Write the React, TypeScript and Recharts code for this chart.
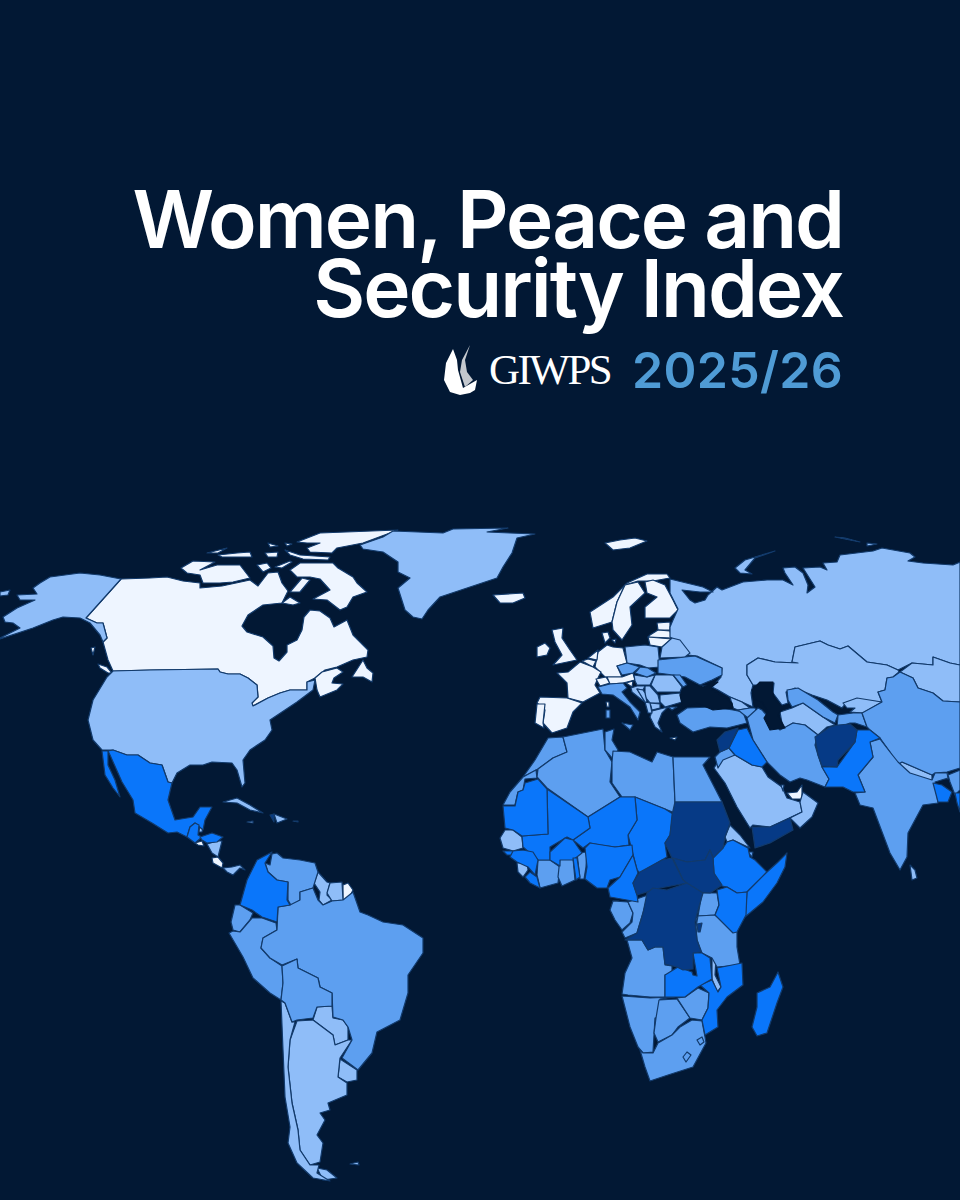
import { ScatterChart, Scatter, XAxis, YAxis } from "recharts"

type Outline = [number, number][]

// index bands, best to worst
const BAND_COLORS = ["#eef5ff", "#8fbdf8", "#5d9ff0", "#0a76fa", "#063a86"]
const BACKGROUND = "#021834"
const BORDER = "#123a6b"

// top band
const canada: Outline = [[121,579],[150,578],[167,577],[183,581],[200,583],[200,588],[222,586],[250,580],[258,586],[268,573],[278,572],[282,583],[288,591],[285,597],[282,603],[263,605],[248,615],[242,626],[247,632],[263,637],[273,646],[274,658],[279,661],[287,652],[287,645],[297,640],[302,630],[304,617],[310,610],[320,611],[330,618],[334,627],[347,620],[353,635],[368,650],[367,657],[353,660],[337,667],[325,670],[315,678],[307,682],[307,690],[290,690],[280,693],[268,698],[253,706],[252,703],[258,697],[257,685],[248,678],[240,674],[228,674],[220,672],[218,669],[150,670],[113,671],[108,660],[103,642],[107,638],[103,623],[97,623],[86,618]]
const maritimes: Outline = [[315,678],[322,672],[337,668],[343,672],[334,678],[332,683],[343,684],[337,690],[320,697],[317,690]]
const newfoundland: Outline = [[352,677],[363,660],[367,668],[373,673],[372,682],[363,677]]
const vancouver: Outline = [[98,664],[107,667],[112,673],[108,673],[100,668]]
const haida: Outline = [[91,648],[95,647],[93,655]]
const arctic: Outline[] = [
  [[181,568],[193,561],[215,562],[200,570],[217,565],[240,565],[250,578],[233,582],[220,583],[203,583],[200,575],[187,573]],
  [[207,553],[227,548],[218,553]],
  [[218,555],[237,553],[250,552],[252,557],[233,557],[222,557]],
  [[265,553],[278,552],[277,557],[268,557]],
  [[257,565],[267,563],[271,568],[263,572]],
  [[275,567],[290,561],[292,562],[282,568]],
  [[290,570],[300,563],[317,563],[333,563],[338,568],[353,577],[357,583],[367,592],[353,597],[347,607],[340,610],[327,600],[313,599],[330,590],[320,579],[310,577],[297,577]],
  [[297,542],[320,533],[398,530],[363,543],[337,548],[332,553],[310,552],[307,548],[320,543],[307,543]],
  [[285,550],[300,555],[330,557],[328,560],[303,559],[290,555]],
  [[290,592],[302,578],[310,580],[300,592]],
  [[282,603],[290,597],[300,603],[293,605]],
  [[268,543],[278,546],[270,547]],
  [[285,543],[292,544],[287,546]],
]
const iceland: Outline = [[493,595],[523,593],[525,598],[513,603],[500,603]]
const svalbard: Outline = [[605,543],[620,540],[635,538],[647,541],[630,548],[613,550]]
const norway: Outline = [[590,612],[613,597],[627,583],[647,574],[667,574],[670,578],[653,581],[638,581],[625,585],[617,602],[612,622],[593,628]]
const sweden: Outline = [[625,585],[638,582],[645,593],[630,607],[632,625],[622,640],[613,630],[612,622],[617,602]]
const finland: Outline = [[645,582],[653,580],[665,585],[673,600],[678,610],[670,618],[645,618],[645,607],[657,597],[647,593]]
const estonia: Outline = [[657,623],[670,622],[670,630],[658,630]]
const latvia: Outline = [[650,635],[658,630],[670,631],[672,638],[648,637]]
const lithuania: Outline = [[648,637],[672,639],[662,647],[650,645]]
const denmark: Outline = [[602,633],[608,632],[610,638],[605,643]]
const zealand: Outline = [[612,640],[616,639],[615,643]]
const germany: Outline = [[607,645],[613,647],[623,648],[627,663],[617,666],[622,677],[605,677],[595,667],[598,652]]
const netherlands: Outline = [[588,658],[598,650],[597,660]]
const belgium: Outline = [[582,661],[588,659],[596,661],[593,667]]
const france: Outline = [[557,673],[568,672],[580,662],[593,667],[601,672],[598,678],[595,685],[600,693],[583,702],[568,698],[567,683]]
const corsica: Outline = [[606,702],[609,702],[609,707],[607,707]]
const switzerland: Outline = [[596,679],[606,677],[610,683],[600,686]]
const austria: Outline = [[607,677],[622,677],[633,673],[635,680],[623,683],[610,684]]
const slovenia: Outline = [[626,683],[633,681],[632,687]]
const spain: Outline = [[540,697],[567,698],[582,703],[573,712],[567,728],[552,733],[543,723],[545,710],[537,703]]
const portugal: Outline = [[537,704],[545,704],[543,723],[544,728],[535,723]]
const ireland: Outline = [[537,647],[545,643],[550,648],[547,655],[537,657]]
const uk: Outline = [[552,630],[563,628],[562,638],[570,650],[577,660],[553,665],[562,655],[555,642]]
const cyprus: Outline = [[670,738],[677,737],[675,740]]
const frenchGuiana: Outline = [[343,885],[348,883],[353,890],[348,900],[343,900]]
const costaRica: Outline = [[212,858],[218,857],[223,863],[222,868],[213,863]]
const elSalvador: Outline = [[195,843],[202,841],[204,846],[198,845]]
const uae: Outline = [[787,793],[797,792],[802,785],[802,799],[792,799]]
const eqGuinea: Outline = [[613,901],[619,901],[619,905],[613,905]]

// second band
const alaska: Outline = [[0,638],[20,628],[13,623],[5,622],[3,617],[17,608],[35,600],[20,600],[17,595],[37,594],[33,588],[40,583],[50,577],[80,573],[100,575],[121,579],[86,618],[97,623],[103,623],[107,638],[103,642],[100,635],[90,623],[80,618],[63,617],[53,620],[33,628],[0,639]]
const aleutians: Outline = [[0,592],[10,590],[8,595],[0,596]]
const greenland: Outline = [[360,545],[383,537],[393,531],[443,533],[453,529],[508,528],[487,532],[510,533],[535,534],[517,538],[512,553],[503,567],[497,578],[470,587],[440,597],[428,610],[422,619],[413,617],[405,610],[398,588],[410,578],[398,572],[398,562],[383,552],[363,549]]
const usa: Outline = [[113,671],[150,670],[218,669],[220,672],[228,674],[240,674],[248,678],[257,685],[258,697],[252,703],[253,706],[268,698],[280,693],[290,690],[307,690],[307,682],[315,680],[313,690],[297,702],[282,712],[270,720],[272,730],[265,740],[250,750],[243,760],[245,783],[242,787],[237,770],[232,763],[212,762],[203,765],[190,765],[177,773],[172,783],[168,782],[162,765],[150,763],[138,755],[127,755],[113,750],[102,750],[93,740],[88,720],[93,700],[107,677]]
const russia: Outline = [[670,579],[703,587],[713,592],[700,592],[682,590],[690,600],[695,603],[705,600],[708,595],[717,587],[722,590],[743,582],[767,580],[783,580],[793,585],[785,573],[783,568],[795,567],[803,573],[808,585],[807,593],[815,587],[803,568],[820,567],[827,570],[823,563],[837,562],[840,555],[873,551],[882,548],[910,553],[915,557],[908,561],[923,563],[953,565],[960,562],[960,665],[950,663],[933,657],[933,665],[912,663],[898,670],[887,665],[867,662],[848,646],[840,649],[828,645],[820,641],[795,647],[792,662],[798,663],[775,662],[758,658],[747,665],[747,675],[753,685],[751,693],[753,707],[742,702],[730,697],[718,690],[712,687],[721,677],[722,668],[697,656],[688,655],[682,645],[670,637],[670,627],[673,620],[678,609],[670,593]]
const novayaZemlya: Outline = [[735,568],[745,560],[775,551],[755,558],[745,570],[752,574],[740,573]]
const severnaya: Outline = [[835,537],[860,542],[845,538]]
const severnaya2: Outline = [[867,543],[877,544],[867,546]]
const kazakhstan: Outline = [[899,672],[893,677],[887,678],[885,690],[878,692],[882,702],[860,700],[847,702],[842,708],[827,700],[812,695],[795,688],[786,692],[788,703],[782,705],[773,693],[774,683],[758,685],[753,685],[747,675],[747,665],[758,658],[775,662],[798,663],[792,662],[795,647],[820,641],[828,645],[840,649],[848,646],[867,662],[887,665],[898,670]]
const mongolia: Outline = [[900,672],[912,663],[933,665],[933,657],[950,663],[960,665],[960,702],[943,701],[933,693],[918,688],[913,678]]
const turkmenistan: Outline = [[780,712],[792,708],[803,703],[823,717],[835,725],[827,727],[818,735],[805,725],[793,723],[783,729]]
const kyrgyzstan: Outline = [[843,703],[857,698],[882,702],[863,713],[850,712],[855,708],[847,708]]
const georgia: Outline = [[730,697],[742,702],[750,708],[738,710],[733,708]]
const saudiArabia: Outline = [[723,754],[735,755],[752,765],[762,767],[768,777],[782,787],[787,798],[800,802],[802,812],[770,827],[753,825],[750,828],[737,807],[725,783],[714,768]]
const oman: Outline = [[803,792],[818,803],[812,817],[800,828],[790,818],[802,812],[800,802]]
const qatar: Outline = [[781,785],[784,785],[783,791]]
const nepal: Outline = [[897,765],[902,762],[932,775],[932,781],[917,778]]
const bhutan: Outline = [[935,775],[948,773],[948,779],[937,778]]
const sriLanka: Outline = [[910,865],[915,870],[917,878],[912,880]]
const poland: Outline = [[625,647],[645,645],[658,647],[660,667],[648,668],[640,665],[627,663]]
const belarus: Outline = [[662,647],[672,638],[680,640],[690,653],[685,657],[660,658]]
const romania: Outline = [[655,675],[673,675],[682,687],[680,692],[657,692],[651,685]]
const bulgaria: Outline = [[660,695],[680,693],[682,702],[665,707],[660,702]]
const hungary: Outline = [[635,681],[634,675],[647,677],[655,675],[650,685],[637,685]]
const serbia: Outline = [[645,686],[650,686],[658,695],[660,703],[650,703],[645,697]]
const greece: Outline = [[652,711],[668,707],[662,713],[658,723],[662,732],[655,727],[650,717]]
const northMacedonia: Outline = [[650,703],[660,704],[660,708],[652,710]]
const albania: Outline = [[645,702],[650,703],[652,713],[648,713]]
const croatia: Outline = [[631,688],[637,686],[645,686],[643,690],[637,689],[645,702],[642,700],[632,692]]
const bosnia: Outline = [[637,689],[643,690],[645,693],[647,702],[645,702]]
const guyana: Outline = [[318,872],[327,882],[330,883],[327,895],[332,900],[323,905],[319,900],[320,892],[314,883]]
const suriname: Outline = [[330,883],[342,882],[343,900],[332,901],[327,893]]
const paraguay: Outline = [[317,1007],[332,1006],[333,1018],[343,1020],[348,1027],[348,1040],[335,1045],[333,1035],[313,1020]]
const uruguay: Outline = [[340,1059],[357,1070],[357,1080],[347,1082],[338,1077]]
const argentina: Outline = [[297,1021],[313,1020],[333,1035],[335,1045],[348,1040],[352,1040],[340,1058],[338,1077],[347,1083],[347,1095],[328,1103],[330,1110],[320,1113],[325,1120],[317,1135],[323,1143],[320,1162],[310,1165],[300,1150],[298,1130],[292,1103],[288,1067],[290,1040]]
const tierraDelFuego: Outline = [[317,1168],[327,1170],[337,1178],[323,1180]]
const chile: Outline = [[281,1001],[285,1003],[292,1022],[295,1022],[290,1040],[288,1067],[292,1103],[298,1130],[300,1150],[310,1165],[319,1165],[317,1173],[325,1178],[330,1181],[313,1178],[297,1163],[288,1143],[290,1127],[285,1097],[283,1050]]
const falklands: Outline = [[350,1164],[358,1162],[359,1165]]
const nicaragua: Outline = [[207,844],[217,841],[222,841],[218,857],[212,853]]
const panama: Outline = [[223,868],[232,867],[240,865],[245,870],[240,868],[233,875],[227,872]]
const belize: Outline = [[200,822],[204,822],[202,832],[199,832]]
const cuba: Outline = [[223,802],[237,798],[250,805],[263,813],[250,810],[237,803]]
const dominicanRep: Outline = [[274,814],[287,819],[277,823]]
const jamaica: Outline = [[247,822],[253,821],[253,823]]
const puertoRico: Outline = [[293,821],[298,821],[298,822]]
const senegal: Outline = [[500,838],[505,830],[513,830],[522,837],[523,848],[513,851],[503,848]]
const sierraLeone: Outline = [[517,863],[527,863],[528,870],[523,877],[518,872]]
const eritrea: Outline = [[725,837],[730,825],[740,835],[750,848],[733,840],[727,842]]
const rwanda: Outline = [[696,918],[702,917],[702,923],[697,924]]
const malawi: Outline = [[712,958],[716,958],[715,975],[721,987],[717,992],[712,979]]

// third band
const venezuela: Outline = [[272,854],[277,853],[283,858],[300,860],[315,863],[318,872],[313,888],[300,892],[300,900],[292,907],[288,900],[288,882],[277,880],[268,872],[265,863],[270,865]]
const ecuador: Outline = [[231,922],[235,905],[240,905],[253,913],[250,920],[240,932],[233,930]]
const peru: Outline = [[229,933],[233,931],[240,932],[252,918],[262,918],[276,923],[277,930],[263,938],[261,948],[270,958],[282,966],[283,983],[281,1000],[270,993],[253,978],[243,957]]
const brazil: Outline = [[290,905],[300,900],[300,892],[313,888],[318,900],[323,905],[332,901],[343,900],[353,892],[360,912],[368,915],[383,922],[403,925],[423,938],[423,953],[408,975],[408,993],[400,1020],[377,1032],[372,1053],[358,1070],[342,1058],[352,1040],[348,1027],[343,1020],[333,1017],[332,993],[320,987],[318,978],[298,968],[297,959],[282,965],[270,958],[261,948],[263,938],[277,930],[278,907]]
const bolivia: Outline = [[282,966],[297,959],[298,968],[318,978],[320,987],[332,993],[332,1006],[317,1007],[313,1018],[297,1020],[292,1022],[285,1003],[281,1000],[283,983]]
const czechia: Outline = [[617,666],[627,663],[640,667],[633,673],[622,675]]
const slovakia: Outline = [[635,673],[640,667],[648,668],[656,673],[647,677]]
const ukraine: Outline = [[658,660],[677,658],[685,657],[695,656],[722,668],[722,675],[712,680],[700,685],[685,677],[673,675],[658,673]]
const crimea: Outline = [[698,686],[707,686],[703,692]]
const moldova: Outline = [[673,675],[680,675],[687,685],[683,687]]
const italy: Outline = [[598,687],[610,684],[623,683],[627,688],[622,692],[630,702],[640,712],[638,720],[630,707],[613,695],[602,694]]
const sardinia: Outline = [[606,710],[610,710],[610,718],[606,718]]
const sicily: Outline = [[622,723],[633,725],[630,730]]
const turkey: Outline = [[677,715],[687,708],[712,707],[733,710],[743,712],[747,723],[727,728],[710,727],[693,732],[680,723]]
const thrace: Outline = [[668,707],[677,707],[672,710]]
const armenia: Outline = [[738,710],[750,708],[755,708],[760,718],[748,718]]
const uzbekistan: Outline = [[787,690],[798,688],[818,700],[833,712],[838,715],[835,723],[823,717],[803,703],[792,707],[788,700]]
const tajikistan: Outline = [[838,715],[853,713],[862,713],[867,727],[855,723],[850,723],[837,728]]
const iran: Outline = [[747,718],[758,708],[762,710],[780,730],[793,723],[805,725],[818,735],[815,745],[818,755],[822,767],[829,779],[825,787],[807,780],[800,778],[790,782],[780,775],[767,762],[753,740]]
const jordan: Outline = [[715,757],[720,752],[729,748],[735,755],[723,760],[718,768]]
const china: Outline = [[900,672],[913,678],[918,688],[933,693],[943,701],[960,702],[960,768],[947,772],[935,773],[932,775],[902,762],[897,765],[890,752],[880,738],[870,730],[867,727],[862,713],[882,702],[878,692],[885,690],[887,678],[893,677]]
const india: Outline = [[870,742],[880,739],[890,752],[898,762],[910,773],[932,780],[935,773],[947,773],[948,778],[935,782],[938,803],[923,805],[908,833],[907,857],[900,870],[890,853],[873,808],[860,805],[855,793],[865,792],[858,775],[873,757]]
const indiaEast: Outline = [[948,775],[960,770],[960,790],[955,795],[950,782]]
const morocco: Outline = [[523,777],[535,760],[548,738],[563,737],[567,752],[553,758],[538,769]]
const westernSahara: Outline = [[503,805],[510,792],[523,777],[536,770],[537,778],[525,779],[523,790],[518,792],[515,805]]
const algeria: Outline = [[538,769],[553,758],[567,752],[563,737],[603,729],[605,750],[612,762],[610,782],[620,797],[588,817],[547,788],[537,777]]
const tunisia: Outline = [[605,732],[614,729],[612,740],[618,750],[612,758],[605,750]]
const libya: Outline = [[613,751],[630,752],[652,762],[657,752],[673,757],[675,802],[675,813],[665,809],[635,797],[622,797],[612,783],[612,762]]
const egypt: Outline = [[673,757],[687,757],[710,757],[703,765],[722,802],[675,802]]
const ivoryCoast: Outline = [[538,860],[550,860],[560,867],[558,883],[540,888],[537,875]]
const ghana: Outline = [[560,858],[573,858],[575,880],[562,886],[558,877]]
const benin: Outline = [[577,853],[587,852],[586,867],[584,879],[580,879]]
const gabon: Outline = [[610,910],[613,901],[628,902],[633,913],[630,923],[622,930],[615,920]]
const congo: Outline = [[628,902],[648,895],[643,913],[637,933],[625,938],[622,932],[632,922],[633,913]]
const uganda: Outline = [[702,893],[717,893],[719,905],[715,915],[698,916]]
const tanzania: Outline = [[698,916],[715,915],[737,932],[737,947],[740,965],[717,967],[712,958],[702,953],[697,940],[696,927]]
const angola: Outline = [[627,940],[642,940],[648,950],[655,947],[663,947],[665,965],[672,966],[672,973],[665,975],[665,997],[650,997],[628,995],[622,994],[625,973],[632,958]]
const namibia: Outline = [[622,996],[650,998],[675,997],[660,999],[659,1017],[655,1018],[653,1052],[643,1053],[638,1047],[630,1027]]
const botswana: Outline = [[659,1000],[677,999],[690,1018],[678,1027],[672,1035],[658,1042],[654,1033],[656,1018]]
const zimbabwe: Outline = [[677,998],[685,997],[698,988],[709,993],[708,1008],[702,1020],[690,1018]]
const southAfrica: Outline = [[640,1050],[643,1053],[653,1053],[658,1043],[672,1035],[680,1027],[692,1020],[702,1021],[705,1037],[706,1043],[693,1067],[668,1075],[650,1081],[645,1067]]
const lesotho: Outline = [[683,1057],[687,1052],[691,1055],[686,1062]]
const eswatini: Outline = [[697,1040],[702,1037],[704,1042],[700,1045]]
const djibouti: Outline = [[748,852],[753,852],[752,857]]

// fourth band
const mexico: Outline = [[108,751],[113,750],[127,755],[138,755],[150,763],[162,765],[168,782],[172,783],[168,800],[175,820],[193,817],[200,807],[212,807],[205,820],[203,830],[195,823],[190,827],[187,837],[177,832],[168,833],[152,823],[135,813],[133,800],[122,782],[110,755]]
const baja: Outline = [[102,751],[108,751],[108,765],[115,780],[120,797],[113,788],[105,775]]
const guatemala: Outline = [[187,837],[190,827],[195,823],[199,825],[198,835],[202,837],[195,843]]
const honduras: Outline = [[200,837],[212,833],[223,837],[217,842],[207,843],[202,840]]
const colombia: Outline = [[240,905],[247,880],[257,860],[272,852],[265,863],[268,872],[277,880],[288,882],[287,900],[290,905],[278,907],[277,922],[262,917],[252,910]]
const iraq: Outline = [[729,748],[738,730],[747,728],[753,740],[767,762],[762,767],[752,765],[735,755]]
const pakistan: Outline = [[822,767],[837,767],[855,742],[857,730],[870,730],[880,738],[870,742],[873,757],[858,775],[865,792],[853,792],[843,787],[825,787],[829,779]]
const bangladesh: Outline = [[933,783],[942,785],[952,792],[948,802],[938,802]]
const myanmar: Outline = [[955,793],[960,793],[960,812],[957,803]]
const chad: Outline = [[635,797],[665,809],[673,814],[670,835],[665,843],[667,857],[662,860],[640,873],[637,870],[628,835],[637,820]]
const niger: Outline = [[588,817],[620,797],[635,797],[637,820],[628,835],[629,845],[615,847],[600,845],[590,843],[583,848],[573,840],[590,828]]
const mali: Outline = [[547,789],[588,817],[590,828],[573,840],[567,837],[550,847],[550,860],[538,860],[523,847],[522,836],[548,834]]
const mauritania: Outline = [[503,806],[515,806],[518,792],[523,790],[525,783],[538,779],[547,789],[548,834],[522,836],[513,830],[505,828]]
const guineaBissau: Outline = [[503,851],[513,851],[512,855],[507,855]]
const guinea: Outline = [[513,851],[523,850],[533,852],[538,860],[535,875],[528,867],[517,862],[510,857]]
const liberia: Outline = [[525,877],[530,872],[537,877],[540,888],[530,883]]
const burkinaFaso: Outline = [[550,860],[550,852],[565,838],[573,840],[582,853],[573,860],[560,860],[560,866]]
const togo: Outline = [[573,858],[577,858],[580,877],[576,880]]
const nigeria: Outline = [[585,848],[590,843],[615,847],[632,845],[633,855],[620,877],[610,880],[607,888],[597,888],[585,879],[587,867]]
const cameroon: Outline = [[633,855],[638,873],[633,883],[637,895],[638,902],[610,897],[608,888],[620,877]]
const ethiopia: Outline = [[727,842],[733,840],[748,848],[750,857],[755,860],[767,872],[747,892],[737,893],[727,887],[717,885],[714,873],[713,858],[723,848]]
const somalia: Outline = [[747,892],[767,872],[778,862],[787,853],[785,867],[777,883],[763,902],[745,917]]
const kenya: Outline = [[717,890],[727,887],[737,893],[747,892],[746,915],[737,932],[733,933],[715,915],[719,905]]
const mozambique: Outline = [[742,963],[743,985],[727,997],[717,1010],[718,1027],[705,1035],[702,1020],[708,1008],[709,993],[700,985],[712,980],[718,992],[721,987],[717,968]]
const zambia: Outline = [[665,975],[678,967],[692,972],[693,975],[697,976],[693,953],[702,953],[710,958],[712,979],[698,987],[685,997],[670,997],[665,997]]
const madagascar: Outline = [[757,993],[770,987],[778,972],[783,987],[777,1003],[767,1033],[757,1036],[752,1027],[757,1007]]

// bottom band
const afghanistan: Outline = [[815,737],[830,727],[838,725],[850,724],[857,730],[855,742],[838,760],[837,767],[822,766],[818,755]]
const syria: Outline = [[717,740],[725,732],[738,728],[729,748],[720,752]]
const yemen: Outline = [[752,827],[770,827],[790,818],[793,830],[770,843],[755,848]]
const sudan: Outline = [[675,802],[722,802],[730,823],[725,837],[723,848],[713,858],[710,850],[705,860],[687,862],[672,858],[665,843],[670,835],[672,815]]
const southSudan: Outline = [[673,858],[687,862],[705,860],[710,850],[713,858],[714,873],[722,885],[710,893],[693,892],[683,880]]
const car: Outline = [[633,883],[640,872],[662,860],[672,858],[683,880],[687,883],[660,888],[637,895]]
const drc: Outline = [[647,893],[653,888],[667,890],[687,883],[703,893],[698,910],[695,922],[697,940],[701,952],[693,953],[693,969],[683,970],[677,967],[665,964],[663,947],[655,947],[648,950],[642,940],[625,940],[637,933],[643,913]]
const burundi: Outline = [[697,924],[702,923],[700,932],[698,932]]
const haiti: Outline = [[270,815],[274,814],[274,822]]

// inland seas sit on top of the land
const caspian: Outline = [[752,690],[760,682],[773,682],[772,690],[775,700],[783,708],[778,715],[785,728],[770,730],[764,718],[768,712],[762,702],[755,700]]
const blackSea: Outline = [[680,695],[690,683],[703,687],[718,682],[710,688],[732,703],[733,708],[713,710],[697,703],[683,708]]

const bands: Outline[][] = [
  [canada, maritimes, newfoundland, vancouver, haida, ...arctic, iceland, svalbard, norway, sweden, finland, estonia, latvia, lithuania, denmark, zealand, germany, netherlands, belgium, france, corsica, switzerland, austria, slovenia, spain, portugal, ireland, uk, cyprus, frenchGuiana, costaRica, elSalvador, uae, eqGuinea],
  [alaska, aleutians, greenland, usa, russia, novayaZemlya, severnaya, severnaya2, kazakhstan, mongolia, turkmenistan, kyrgyzstan, georgia, saudiArabia, oman, qatar, nepal, bhutan, sriLanka, poland, belarus, romania, bulgaria, hungary, serbia, greece, northMacedonia, albania, croatia, bosnia, guyana, suriname, paraguay, uruguay, argentina, tierraDelFuego, chile, falklands, nicaragua, panama, belize, cuba, dominicanRep, jamaica, puertoRico, senegal, sierraLeone, eritrea, rwanda, malawi],
  [venezuela, ecuador, peru, brazil, bolivia, czechia, slovakia, ukraine, crimea, moldova, italy, sardinia, sicily, turkey, thrace, armenia, uzbekistan, tajikistan, iran, jordan, china, india, indiaEast, morocco, westernSahara, algeria, tunisia, libya, egypt, ivoryCoast, ghana, benin, gabon, congo, uganda, tanzania, angola, namibia, botswana, zimbabwe, southAfrica, lesotho, eswatini, djibouti],
  [mexico, baja, guatemala, honduras, colombia, iraq, pakistan, bangladesh, myanmar, chad, niger, mali, mauritania, guineaBissau, guinea, liberia, burkinaFaso, togo, nigeria, cameroon, ethiopia, somalia, kenya, mozambique, zambia, madagascar],
  [afghanistan, syria, yemen, sudan, southSudan, car, drc, burundi, haiti],
]
const seas: Outline[] = [caspian, blackSea]

const toPoints = (outline: Outline) => outline.map(([x, y]) => ({ x, y }))

// Scatter hands the scaled points to `line`, so a closed polygon can be drawn from them
const regionShape = (fill: string, stroke: string) => (props: any) => (
  <polygon
    key="region"
    points={props.points.map((p: any) => `${p.x},${p.y}`).join(" ")}
    fill={fill}
    stroke={stroke}
    strokeWidth={1.2}
    strokeLinejoin="round"
  />
)
const noDot = () => <g />

const logoBody = "453,349 457,360 458,370 463,388 477,380 475,390 470,393 460,395 450,392 444,380 446,363"
const logoWing = "470,345 462,360 460,372 465,387 473,380 467,372 465,360"

export default function App() {
  return (
    <div style={{ position: "absolute", left: 0, top: 0, width: 960, height: 1200, background: BACKGROUND, overflow: "hidden" }}>
      <ScatterChart width={960} height={1200} margin={{ top: 0, right: 0, bottom: 0, left: 0 }}>
        <XAxis type="number" dataKey="x" domain={[0, 960]} hide />
        <YAxis type="number" dataKey="y" domain={[0, 1200]} reversed hide />
        {bands.flatMap((outlines, band) =>
          outlines.map((outline, i) => (
            <Scatter
              key={`${band}-${i}`}
              data={toPoints(outline)}
              line={regionShape(BAND_COLORS[band], BORDER)}
              shape={noDot}
              isAnimationActive={false}
            />
          ))
        )}
        {seas.map((outline, i) => (
          <Scatter
            key={`sea-${i}`}
            data={toPoints(outline)}
            line={regionShape(BACKGROUND, BACKGROUND)}
            shape={noDot}
            isAnimationActive={false}
          />
        ))}
      </ScatterChart>
      <svg width={960} height={500} style={{ position: "absolute", left: 0, top: 0 }}>
        <text x={843} y={248} textAnchor="end" fill="#ffffff" fontFamily="Inter" fontWeight={600} fontSize={80} letterSpacing={-2}>
          Women, Peace and
        </text>
        <text x={843} y={317} textAnchor="end" fill="#ffffff" fontFamily="Inter" fontWeight={600} fontSize={80} letterSpacing={-2}>
          Security Index
        </text>
        <polygon points={logoBody} fill="#ffffff" />
        <polygon points={logoWing} fill="#c4c8ce" />
        <text x={489} y={384} fill="#ffffff" fontFamily="Liberation Serif" fontSize={43} letterSpacing={-2.5}>
          GIWPS
        </text>
        <text x={843} y={388} textAnchor="end" fill="#4f9bd5" fontFamily="Inter" fontWeight={600} fontSize={50} letterSpacing={0.3}>
          2025/26
        </text>
      </svg>
    </div>
  )
}
